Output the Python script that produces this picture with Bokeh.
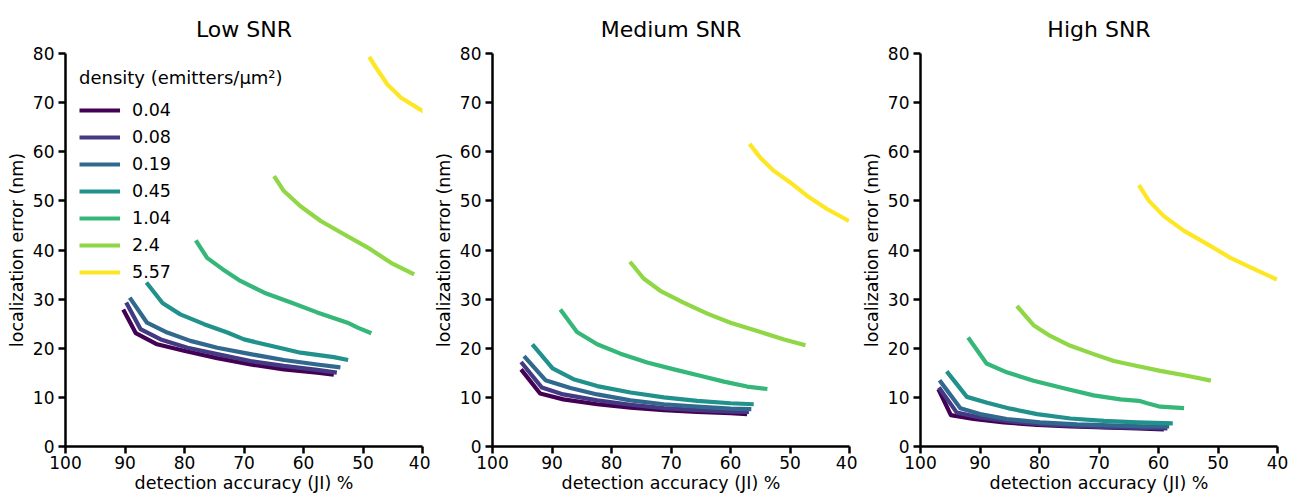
from bokeh.plotting import figure
from bokeh.layouts import row
from bokeh.models import Range1d, FixedTicker, Legend, LegendItem
from bokeh.embed import file_html
from bokeh.resources import INLINE

DENSITIES = ["0.04", "0.08", "0.19", "0.45", "1.04", "2.4", "5.57"]
COLORS = ["#440154", "#443983", "#31688e", "#21918c", "#35b779", "#8fd744", "#fde725"]
PANEL_TITLES = ["Low SNR", "Medium SNR", "High SNR"]
X_TICKS = [100, 90, 80, 70, 60, 50, 40]
Y_TICKS = [0, 10, 20, 30, 40, 50, 60, 70, 80]

# Low SNR
LOW_X = [
    [90.3, 88.2, 84.6, 80.1, 74.5, 68.9, 63.3, 57.7, 54.9],
    [89.8, 87.4, 84.0, 79.5, 74.5, 68.9, 63.3, 57.7, 54.4],
    [89.2, 86.3, 82.9, 79.0, 74.5, 68.9, 63.3, 57.7, 53.8],
    [86.4, 83.7, 80.7, 76.7, 72.8, 70.0, 65.5, 60.5, 54.9, 52.5],
    [78.1, 76.2, 73.6, 70.6, 66.6, 62.1, 57.7, 52.6, 50.9, 48.6],
    [64.95, 63.3, 60.5, 57.1, 53.2, 49.2, 45.3, 41.4],
    [48.96, 47.8, 45.9, 43.6, 40.0, 38.5],
]
LOW_Y = [
    [27.9, 23.1, 20.8, 19.5, 18.0, 16.7, 15.7, 15.05, 14.6],
    [29.3, 23.9, 21.8, 20.1, 18.8, 17.4, 16.4, 15.6, 15.05],
    [30.3, 25.2, 23.2, 21.5, 20.1, 18.8, 17.6, 16.7, 16.1],
    [33.4, 29.2, 26.9, 24.9, 23.2, 21.8, 20.5, 19.1, 18.2, 17.6],
    [41.97, 38.4, 36.1, 33.7, 31.3, 29.3, 27.3, 25.2, 24.2, 23.05],
    [55.05, 52.0, 48.9, 45.9, 43.2, 40.5, 37.4, 35.05],
    [79.3, 77.1, 73.7, 71.0, 68.3, 67.2],
]

# Medium SNR
MED_X = [
    [95.2, 92.0, 88.1, 82.4, 76.8, 71.2, 65.6, 60.0, 57.2],
    [95.2, 91.7, 88.1, 82.4, 76.8, 71.2, 65.6, 60.0, 56.9],
    [94.7, 91.1, 86.9, 82.4, 76.8, 71.2, 65.6, 60.0, 56.5],
    [93.3, 89.9, 86.4, 82.4, 76.8, 71.2, 65.6, 60.0, 56.1],
    [88.6, 85.8, 82.4, 78.5, 74.0, 69.5, 65.1, 61.1, 57.2, 53.8],
    [76.9, 74.6, 71.8, 67.9, 63.9, 60.0, 55.5, 51.0, 47.4],
    [56.8, 55.0, 52.7, 49.9, 47.1, 43.7, 40.1],
]
MED_Y = [
    [15.7, 10.8, 9.6, 8.6, 7.9, 7.4, 7.05, 6.8, 6.6],
    [17.2, 12.0, 10.6, 9.4, 8.5, 7.8, 7.4, 7.1, 7.05],
    [18.4, 13.5, 11.9, 10.6, 9.4, 8.6, 8.1, 7.7, 7.6],
    [20.8, 15.9, 13.7, 12.3, 11.0, 10.0, 9.3, 8.8, 8.6],
    [27.9, 23.3, 20.8, 18.9, 17.1, 15.7, 14.4, 13.2, 12.2, 11.7],
    [37.6, 34.2, 31.7, 29.3, 27.05, 25.2, 23.5, 21.8, 20.6],
    [61.6, 58.8, 56.1, 53.7, 51.0, 48.3, 45.9],
]

# High SNR
HIGH_X = [
    [97.0, 94.9, 91.1, 86.0, 80.4, 74.8, 69.2, 63.6, 59.1],
    [96.9, 93.9, 90.0, 84.9, 79.3, 73.7, 68.1, 62.5, 58.5],
    [96.8, 93.3, 90.0, 85.5, 79.9, 73.7, 68.1, 62.5, 58.2],
    [95.6, 92.2, 88.8, 84.9, 80.4, 74.8, 69.2, 63.6, 57.6],
    [92.0, 88.9, 85.5, 81.0, 75.4, 70.9, 66.4, 63.3, 61.9, 59.7, 55.7],
    [83.8, 81.0, 78.2, 74.8, 70.9, 67.5, 63.6, 59.7, 55.2, 51.2],
    [63.3, 61.6, 59.1, 55.7, 51.8, 47.9, 43.9, 40.1],
]
HIGH_Y = [
    [11.7, 6.4, 5.6, 4.9, 4.4, 4.1, 3.9, 3.7, 3.5],
    [12.0, 6.9, 5.9, 5.1, 4.5, 4.2, 3.9, 3.8, 3.7],
    [13.5, 7.8, 6.6, 5.6, 4.9, 4.5, 4.3, 4.1, 4.1],
    [15.3, 10.1, 8.9, 7.7, 6.6, 5.7, 5.2, 4.9, 4.7],
    [22.2, 16.9, 15.1, 13.4, 11.7, 10.4, 9.6, 9.3, 8.8, 8.1, 7.8],
    [28.6, 24.7, 22.5, 20.5, 18.8, 17.4, 16.4, 15.4, 14.4, 13.4],
    [53.2, 50.0, 46.9, 43.9, 41.2, 38.4, 36.1, 34.0],
]

FONT = "DejaVu Sans"
LEGEND_TITLE = "density (emitters/\u03bcm\u00b2)"
X_LABEL = "detection accuracy (JI) %"
Y_LABEL = "localization error (nm)"


def make_panel(title, xs, ys, width, left, right, with_legend):
    p = figure(width=width, height=495, output_backend="svg", toolbar_location=None,
               x_range=Range1d(100, 40), y_range=Range1d(0, 80),
               min_border_left=left, min_border_right=right,
               min_border_top=53, min_border_bottom=49)
    p.title.text = title
    p.title.align = "center"
    p.title.text_font = FONT
    p.title.text_font_size = "22px"
    p.title.text_font_style = "normal"
    p.title.text_color = "black"
    p.title.standoff = 24
    p.outline_line_color = None
    p.xgrid.visible = False
    p.ygrid.visible = False
    for ax, ticks, lab in ((p.xaxis, X_TICKS, X_LABEL), (p.yaxis, Y_TICKS, Y_LABEL)):
        ax.ticker = FixedTicker(ticks=ticks)
        ax.axis_label = lab
        ax.axis_label_text_font = FONT
        ax.axis_label_text_font_size = "17.5px"
        ax.axis_label_text_font_style = "normal"
        ax.axis_label_text_color = "black"
        ax.major_label_text_font = FONT
        ax.major_label_text_font_size = "17px"
        ax.major_label_text_color = "black"
        ax.axis_line_width = 2.5
        ax.axis_line_color = "black"
        ax.major_tick_line_width = 2.5
        ax.major_tick_line_color = "black"
        ax.major_tick_out = 7
        ax.major_tick_in = 0
        ax.minor_tick_line_color = None
    p.xaxis.major_label_standoff = 2
    p.xaxis.axis_label_standoff = 1
    p.yaxis.major_label_standoff = 4
    p.yaxis.axis_label_standoff = 3

    renderers = []
    for x, y, c in zip(xs, ys, COLORS):
        r = p.line(x, y, line_color=c, line_width=4.2, line_join="round", line_cap="butt")
        renderers.append(r)
    if with_legend:
        items = [LegendItem(label=d, renderers=[r]) for d, r in zip(DENSITIES, renderers)]
        leg = Legend(items=items, location="top_left", title=LEGEND_TITLE,
                     title_text_font=FONT, title_text_font_size="18px",
                     title_text_font_style="normal", title_text_color="black",
                     label_text_font=FONT, label_text_font_size="17.5px", label_text_color="black",
                     border_line_color=None, background_fill_alpha=0,
                     glyph_width=41, glyph_height=20, label_height=20, spacing=7,
                     padding=0, margin=14, label_standoff=12, title_standoff=12)
        p.add_layout(leg)
    return p


p1 = make_panel(PANEL_TITLES[0], LOW_X, LOW_Y, 430, 65, 8, True)
p2 = make_panel(PANEL_TITLES[1], MED_X, MED_Y, 427, 62, 8, False)
p3 = make_panel(PANEL_TITLES[2], HIGH_X, HIGH_Y, 432, 63, 12, False)

layout = row(p1, p2, p3)
open("out.html", "w").write(file_html(layout, INLINE))
